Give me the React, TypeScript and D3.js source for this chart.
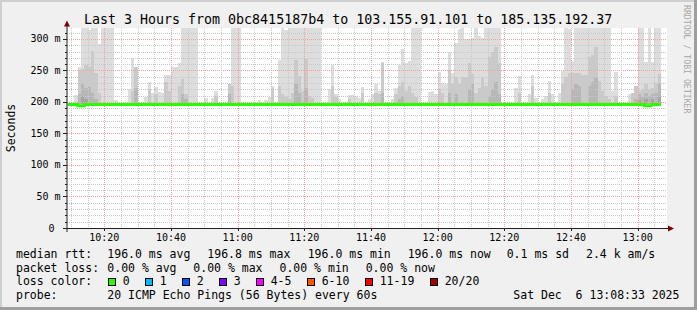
import React from "react";
import * as d3 from "d3";

const W = 697;
const H = 310;
const START = new Date(2025, 11, 6, 10, 8, 48);
const END = new Date(2025, 11, 6, 13, 8, 48);
const BIN0 = new Date(2025, 11, 6, 10, 9, 0);
const Y_MAX = 317.46;
const SMOKE_BASE = 197.5;

// smoke layers in ms, one value per minute (0 = no smoke above median)
const smokeLight = [
  0, 0, 211, 255, 330, 330, 315, 330, 330, 292,
  330, 330, 330, 330, 203, 0, 0, 0, 221, 270,
  206, 0, 0, 208, 231, 214, 224, 216, 215, 243,
  243, 255, 256, 262, 330, 330, 330, 330, 330, 0,
  0, 207, 0, 207, 218, 0, 0, 0, 228, 330,
  330, 330, 0, 0, 0, 0, 0, 203, 199, 203,
  208, 225, 200, 267, 330, 314, 330, 330, 330, 330,
  330, 330, 330, 330, 330, 330, 0, 0, 220, 258,
  212, 205, 198, 200, 211, 211, 210, 207, 224, 198,
  205, 212, 228, 217, 264, 200, 199, 205, 223, 258,
  284, 262, 265, 330, 330, 330, 198, 199, 216, 218,
  212, 247, 230, 228, 280, 246, 294, 316, 330, 300,
  300, 302, 330, 305, 302, 330, 330, 330, 330, 330,
  0, 199, 198, 0, 222, 242, 0, 0, 213, 243,
  207, 198, 205, 210, 234, 212, 200, 214, 249, 330,
  316, 265, 330, 330, 330, 330, 330, 330, 330, 330,
  330, 330, 330, 218, 247, 0, 0, 0, 212, 214,
  226, 330, 330, 263, 330, 263, 330, 330,
];

const smokeMid = [
  0, 0, 0, 250, 253, 258, 255, 281, 246, 215,
  0, 0, 0, 0, 0, 0, 0, 0, 0, 218,
  255, 0, 0, 0, 220, 0, 212, 0, 0, 232,
  218, 0, 0, 225, 236, 212, 0, 0, 0, 0,
  0, 0, 0, 0, 210, 0, 0, 0, 228, 226,
  0, 0, 0, 0, 0, 0, 0, 0, 0, 0,
  0, 222, 0, 225, 212, 208, 205, 215, 266, 242,
  218, 268, 210, 206, 0, 0, 0, 0, 0, 226,
  208, 0, 0, 0, 205, 0, 0, 0, 215, 0,
  0, 0, 215, 212, 262, 0, 0, 0, 212, 225,
  232, 218, 225, 215, 208, 0, 0, 0, 0, 0,
  0, 220, 214, 0, 250, 228, 240, 228, 239, 240,
  262, 245, 215, 222, 240, 225, 272, 280, 288, 262,
  0, 0, 0, 0, 0, 215, 0, 0, 0, 226,
  0, 0, 0, 0, 215, 0, 0, 0, 228, 240,
  246, 246, 246, 246, 243, 243, 272, 275, 288, 234,
  218, 210, 205, 0, 210, 0, 0, 0, 0, 214,
  226, 218, 220, 228, 220, 222, 230, 245,
];

const smokeDark = [
  0, 0, 0, 212, 228, 222, 224, 215, 205, 0,
  0, 0, 0, 0, 0, 0, 0, 0, 0, 0,
  222, 0, 0, 0, 0, 0, 0, 0, 0, 0,
  0, 0, 0, 0, 212, 205, 0, 0, 0, 0,
  0, 0, 0, 0, 0, 0, 0, 0, 212, 0,
  0, 0, 0, 0, 0, 0, 0, 0, 0, 0,
  0, 0, 0, 0, 0, 0, 0, 0, 228, 215,
  0, 222, 0, 0, 0, 0, 0, 0, 0, 0,
  0, 0, 0, 0, 0, 0, 0, 0, 0, 0,
  0, 0, 0, 0, 215, 0, 0, 0, 0, 205,
  210, 0, 0, 0, 0, 0, 0, 0, 0, 0,
  0, 0, 0, 0, 215, 0, 212, 0, 0, 0,
  220, 228, 0, 0, 0, 0, 210, 220, 232, 212,
  0, 0, 0, 0, 0, 0, 0, 0, 0, 0,
  0, 0, 0, 0, 0, 0, 0, 0, 0, 0,
  0, 220, 228, 225, 0, 0, 226, 232, 240, 0,
  0, 0, 0, 0, 0, 0, 0, 0, 0, 0,
  205, 212, 208, 215, 210, 212, 215, 228,
];

const smokeDarkest = [
  0, 0, 0, 0, 210, 204, 0, 0, 0, 0,
  0, 0, 0, 0, 0, 0, 0, 0, 0, 0,
  0, 0, 0, 0, 0, 0, 0, 0, 0, 0,
  0, 0, 0, 0, 0, 0, 0, 0, 0, 0,
  0, 0, 0, 0, 0, 0, 0, 0, 0, 0,
  0, 0, 0, 0, 0, 0, 0, 0, 0, 0,
  0, 0, 0, 0, 0, 0, 0, 0, 0, 0,
  0, 0, 0, 0, 0, 0, 0, 0, 0, 0,
  0, 0, 0, 0, 0, 0, 0, 0, 0, 0,
  0, 0, 0, 0, 0, 0, 0, 0, 0, 0,
  0, 0, 0, 0, 0, 0, 0, 0, 0, 0,
  0, 0, 0, 0, 0, 0, 0, 0, 0, 0,
  0, 0, 0, 0, 0, 0, 0, 0, 0, 0,
  0, 0, 0, 0, 0, 0, 0, 0, 0, 0,
  0, 0, 0, 0, 0, 0, 0, 0, 0, 0,
  0, 0, 0, 0, 0, 0, 0, 0, 0, 0,
  0, 0, 0, 0, 0, 0, 0, 0, 0, 0,
  0, 203, 0, 205, 0, 204, 0, 208,
];

const medianRtt = [
  196, 196, 196, 194.2, 194.2, 196, 196, 196, 196, 196,
  196, 196, 196, 196, 196, 196, 196, 196, 196, 196,
  196, 196, 196, 196, 196, 196, 196, 196, 196, 196,
  196, 196, 196, 196, 196, 196, 196, 196, 196, 196,
  196, 196, 196, 196, 196, 196, 196, 196, 196, 196,
  196, 196, 196, 196, 196, 196, 196, 196, 196, 196,
  196, 196, 196, 196, 196, 196, 196, 196, 196, 196,
  196, 196, 196, 196, 196, 196, 196, 196, 196, 196,
  196, 196, 196, 196, 196, 196, 196, 196, 196, 196,
  196, 196, 196, 196, 196, 196, 196, 196, 196, 196,
  196, 196, 196, 196, 196, 196, 196, 196, 196, 196,
  196, 196, 196, 196, 196, 196, 196, 196, 196, 196,
  196, 196, 196, 196, 196, 196, 196, 196, 196, 196,
  196, 196, 196, 196, 196, 196, 196, 196, 196, 196,
  196, 196, 196, 196, 196, 196, 196, 196, 196, 196,
  196, 196, 196, 196, 196, 196, 196, 196, 196, 196,
  196, 196, 196, 196, 196, 196, 196, 196, 196, 196,
  196, 196, 196, 194.2, 194.2, 196, 196, 196,
];

const yTickValues = [0, 50, 100, 150, 200, 250, 300];
const yTickLabels = ["0", "50 m", "100 m", "150 m", "200 m", "250 m", "300 m"];

const TITLE = "Last 3 Hours from 0bc8415187b4 to 103.155.91.101 to 185.135.192.37";

const legendRow1 = [
  { x: 16, t: "median rtt:" },
  { x: 107.3, t: "196.0 ms avg" },
  { x: 207.3, t: "196.8 ms max" },
  { x: 307.7, t: "196.0 ms min" },
  { x: 407.7, t: "196.0 ms now" },
  { x: 506.7, t: "0.1 ms sd" },
  { x: 586, t: "2.4 k am/s" },
];
const legendRow2 = [
  { x: 16, t: "packet loss:" },
  { x: 107.3, t: "0.00 % avg" },
  { x: 193.3, t: "0.00 % max" },
  { x: 279.5, t: "0.00 % min" },
  { x: 365.7, t: "0.00 % now" },
];
const lossLabels = ["0", "1", "2", "3", "4-5", "6-10", "11-19", "20/20"];
const lossColors = ["#26ff00", "#00b8ff", "#0059ff", "#7e00ff", "#ff00ff", "#ff5500", "#ff0000", "#a10000"];
const lossBoxX = [108.5, 145.5, 182.5, 219.5, 256.5, 307.5, 365.5, 430.5];

const FONT = "'DejaVu Sans Mono', monospace";

export default function App() {
  const x = d3.scaleTime().domain([START, END]).range([67, 667]);
  const y = d3.scaleLinear().domain([0, Y_MAX]).range([228, 28]);
  const binStart = (i: number) => x(d3.timeMinute.offset(BIN0, i));

  const layers = [
    { data: smokeLight, color: "#dddddd" },
    { data: smokeMid, color: "#cacaca" },
    { data: smokeDark, color: "#b7b7b7" },
    { data: smokeDarkest, color: "#a4a4a4" },
  ];

  const minorX = d3.timeMinute.every(5)!.range(START, END);
  const majorX = d3.timeMinute.every(20)!.range(START, END);
  const minorY = d3.range(10, Y_MAX, 10);

  const medPts = medianRtt.map((v, i) => [binStart(i), y(v)] as [number, number]);
  medPts.push([binStart(medianRtt.length), y(medianRtt[medianRtt.length - 1])]);
  const medPath = d3.line().curve(d3.curveStepAfter)(medPts) || "";

  const fmt = d3.timeFormat("%H:%M");

  return (
    <svg
      width={W}
      height={H}
      style={{ position: "absolute", left: 0, top: 0, fontFamily: FONT }}
    >
      <rect x={0} y={0} width={W} height={H} fill="#f0f0f0" />
      <rect x={0} y={0} width={W} height={2} fill="#cfcfcf" />
      <rect x={0} y={0} width={2} height={H} fill="#cfcfcf" />
      <rect x={0} y={H - 3} width={W} height={3} fill="#9e9e9e" />
      <rect x={W - 3} y={0} width={3} height={H} fill="#9e9e9e" />

      <rect x={67} y={28} width={600} height={200} fill="#ffffff" />

      {/* smoke */}
      <g shapeRendering="crispEdges">
        {layers.map((L, li) =>
          L.data.map((v, i) =>
            v > SMOKE_BASE ? (
              <rect
                key={`${li}-${i}`}
                x={binStart(i)}
                y={y(Math.min(v, Y_MAX))}
                width={binStart(i + 1) - binStart(i)}
                height={y(SMOKE_BASE) - y(Math.min(v, Y_MAX))}
                fill={L.color}
              />
            ) : null
          )
        )}
      </g>

      {/* minor grid */}
      <g stroke="#c8c8c8" strokeWidth={1} strokeDasharray="1,1" shapeRendering="crispEdges">
        {minorY.map((v) => (
          <line key={`my${v}`} x1={67} x2={667} y1={Math.round(y(v)) + 0.5} y2={Math.round(y(v)) + 0.5} />
        ))}
        {minorX.map((d) => (
          <line key={`mx${+d}`} x1={Math.round(x(d)) + 0.5} x2={Math.round(x(d)) + 0.5} y1={28} y2={228} />
        ))}
      </g>
      {/* major grid */}
      <g stroke="#f2a0a0" strokeWidth={1} strokeDasharray="1,1" shapeRendering="crispEdges">
        {yTickValues.filter((v) => v > 0).map((v) => (
          <line key={`My${v}`} x1={67} x2={667} y1={Math.round(y(v)) + 0.5} y2={Math.round(y(v)) + 0.5} />
        ))}
        {majorX.map((d) => (
          <line key={`Mx${+d}`} x1={Math.round(x(d)) + 0.5} x2={Math.round(x(d)) + 0.5} y1={28} y2={228} />
        ))}
      </g>

      {/* median */}
      <path d={medPath} fill="none" stroke="#26ff00" strokeWidth={3} />

      {/* axes */}
      <line x1={63} x2={669} y1={228.5} y2={228.5} stroke="#212121" strokeWidth={1} />
      <line x1={67} x2={67} y1={232} y2={24} stroke="#212121" strokeWidth={1} />
      <g stroke="#212121" strokeWidth={1} shapeRendering="crispEdges">
        {yTickValues.map((v) => (
          <line key={`ty${v}`} x1={63} x2={67} y1={Math.round(y(v)) + 0.5} y2={Math.round(y(v)) + 0.5} />
        ))}
        {minorY.map((v) => (
          <line key={`tmy${v}`} x1={65} x2={67} y1={Math.round(y(v)) + 0.5} y2={Math.round(y(v)) + 0.5} />
        ))}
        {majorX.map((d) => (
          <line key={`tx${+d}`} x1={Math.round(x(d)) + 0.5} x2={Math.round(x(d)) + 0.5} y1={228} y2={231} />
        ))}
      </g>
      <path d="M67,20.5 L64,26.5 L70,26.5 Z" fill="#800000" />
      <path d="M674,228.5 L668,225.5 L668,231.5 Z" fill="#800000" />

      {/* y labels */}
      <g fontSize={10} fill="#000">
        {yTickValues.map((v, i) => (
          <text key={`yl${v}`} x={v === 0 ? 54.5 : 60.5} y={y(v) + 3.5} textAnchor="end">
            {yTickLabels[i]}
          </text>
        ))}
      </g>
      {/* x labels */}
      <g fontSize={10} fill="#000">
        {majorX.map((d) => (
          <text key={`xl${+d}`} x={x(d)} y={241} textAnchor="middle">
            {fmt(d)}
          </text>
        ))}
      </g>

      <text x={0} y={0} fontSize={11.5} textAnchor="middle" transform="translate(14.5,128) rotate(-90)">
        Seconds
      </text>

      <text x={84} y={23.5} fontSize={13.3} fill="#000">
        {TITLE}
      </text>

      <text
        x={0}
        y={0}
        fontSize={8.2}
        fill="#a8a8a8"
        transform="translate(683.5,5) rotate(90)"
      >
        RRDTOOL / TOBI OETIKER
      </text>

      {/* legend */}
      <g fontSize={11.5} fill="#000">
        {legendRow1.map((it) => (
          <text key={`l1${it.x}`} x={it.x} y={258}>{it.t}</text>
        ))}
        {legendRow2.map((it) => (
          <text key={`l2${it.x}`} x={it.x} y={271.5}>{it.t}</text>
        ))}
        <text x={16} y={285}>loss color:</text>
        {lossLabels.map((l, i) => (
          <g key={`lc${i}`}>
            <rect x={lossBoxX[i]} y={278.5} width={7} height={7} fill={lossColors[i]} stroke="#000" strokeWidth={1} />
            <text x={lossBoxX[i] + 14.2} y={285}>{l}</text>
          </g>
        ))}
        <text x={16} y={298.5}>probe:</text>
        <text x={107.3} y={298.5}>20 ICMP Echo Pings (56 Bytes) every 60s</text>
        <text x={513.3} y={298.5} xmlSpace="preserve" style={{ whiteSpace: "pre" }}>
          {"Sat Dec\u00a0\u00a06 13:08:33 2025"}
        </text>
      </g>
    </svg>
  );
}
